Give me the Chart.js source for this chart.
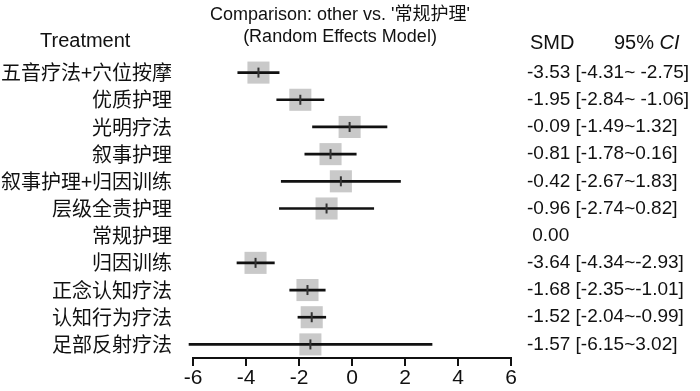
<!DOCTYPE html>
<html>
<head>
<meta charset="utf-8">
<script src="https://cdn.jsdelivr.net/npm/chart.js@4"></script>
<style>
  html, body { margin: 0; padding: 0; background: #ffffff; }
  #wrap { width: 700px; height: 391px; position: relative; }
</style>
</head>
<body>
<div id="wrap"><canvas id="forestChart"></canvas></div>
<script>
// treatments, top to bottom
const treatments = ['五音疗法+穴位按摩', '优质护理', '光明疗法', '叙事护理', '叙事护理+归因训练',
    '层级全责护理', '常规护理', '归因训练', '正念认知疗法', '认知行为疗法', '足部反射疗法'];
const smd = [-3.53, -1.95, -0.09, -0.81, -0.42, -0.96, 0.00, -3.64, -1.68, -1.52, -1.57];
const ciLower = [-4.31, -2.84, -1.49, -1.78, -2.67, -2.74, null, -4.34, -2.35, -2.04, -6.15];
const ciUpper = [-2.75, -1.06, 1.32, 0.16, 1.83, 0.82, null, -2.93, -1.01, -0.99, 3.02];
const ciLabels = ['-3.53 [-4.31~ -2.75]', '-1.95 [-2.84~ -1.06]', '-0.09 [-1.49~1.32]', '-0.81 [-1.78~0.16]',
    '-0.42 [-2.67~1.83]', '-0.96 [-2.74~0.82]', ' 0.00', '-3.64 [-4.34~-2.93]', '-1.68 [-2.35~-1.01]',
    '-1.52 [-2.04~-0.99]', '-1.57 [-6.15~3.02]'];
const xTicks = [-6, -4, -2, 0, 2, 4, 6];

const LATIN = '"Liberation Sans", Arial, "Noto Sans CJK SC", sans-serif';
const CJK = '"Noto Sans CJK SC", "Liberation Sans", sans-serif';

// points only for rows that have an interval (reference row has none)
const pts = [];
treatments.forEach((t, i) => {
    if (ciLower[i] !== null) pts.push({ x: smd[i], y: t });
});

const textPlugin = {
    id: 'forestText',
    afterDraw(chart) {
        const ctx = chart.ctx;
        const yScale = chart.scales.y;
        ctx.save();
        ctx.fillStyle = '#111111';
        ctx.textBaseline = 'middle';

        // title
        ctx.textAlign = 'center';
        ctx.font = '18px ' + LATIN;
        ctx.fillText("Comparison: other vs. '常规护理'", 340, 15);
        ctx.fillText('(Random Effects Model)', 340, 37);

        // column headers
        ctx.textAlign = 'left';
        ctx.font = '20px ' + LATIN;
        ctx.fillText('Treatment', 40, 41);
        ctx.fillText('SMD', 530, 43);
        ctx.fillText('95% ', 614, 43);
        const w = ctx.measureText('95% ').width;
        ctx.font = 'italic 20px ' + LATIN;
        ctx.fillText('CI', 614 + w, 43);

        // SMD [CI] column
        ctx.font = '19px ' + LATIN;
        ciLabels.forEach((s, i) => {
            ctx.fillText(s, 527, yScale.getPixelForValue(i));
        });
        ctx.restore();
    }
};

new Chart(document.getElementById('forestChart'), {
    type: 'bar',
    data: {
        labels: treatments,
        datasets: [
            {
                // vertical tick at the estimate
                type: 'scatter',
                data: pts,
                pointStyle: 'line',
                rotation: 90,
                pointRadius: 5,
                borderWidth: 2,
                borderColor: '#333333',
                order: 1,
                clip: false
            },
            {
                // confidence interval line
                type: 'bar',
                data: treatments.map((t, i) => ciLower[i] === null ? null : [ciLower[i], ciUpper[i]]),
                backgroundColor: '#111111',
                barThickness: 2,
                order: 2,
                clip: false
            },
            {
                // grey box
                type: 'scatter',
                data: pts,
                pointStyle: 'rect',
                pointRadius: 15.6,
                backgroundColor: '#c9c9c9',
                borderWidth: 0,
                order: 3,
                clip: false
            }
        ]
    },
    options: {
        indexAxis: 'y',
        responsive: true,
        maintainAspectRatio: false,
        animation: false,
        events: [],
        layout: { padding: { top: 59, right: 189, left: 0, bottom: 0 } },
        scales: {
            x: {
                type: 'linear',
                min: -6,
                max: 6,
                afterBuildTicks: s => { s.ticks = xTicks.map(v => ({ value: v })); },
                afterFit: s => { s.height = 30; },
                grid: { drawOnChartArea: false, drawTicks: true, tickLength: 8, color: '#111111', lineWidth: 2 },
                border: { display: true, color: '#111111', width: 2 },
                ticks: { color: '#111111', padding: 2, font: { family: LATIN, size: 21, lineHeight: 1 } }
            },
            y: {
                type: 'category',
                offset: true,
                afterFit: s => { s.width = 193; },
                grid: { display: false, drawTicks: false },
                border: { display: false },
                ticks: { color: '#111111', padding: 21, font: { family: CJK, size: 20 } }
            }
        },
        plugins: {
            legend: { display: false },
            tooltip: { enabled: false },
            title: { display: false }
        }
    },
    plugins: [textPlugin]
});
</script>
</body>
</html>
